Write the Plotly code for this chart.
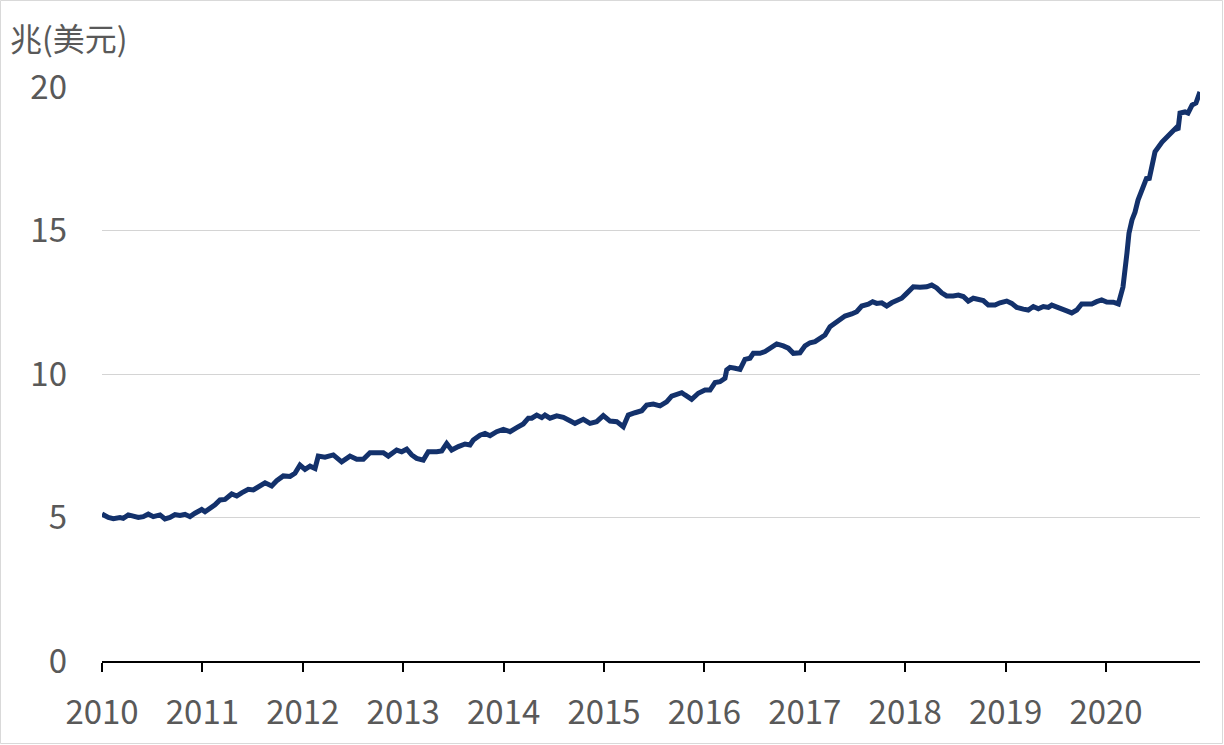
import plotly.graph_objects as go

# Decimal-year positions
year_pos = [
    2010.000, 2010.063, 2010.113, 2010.179, 2010.212, 2010.262, 2010.312, 2010.362, 2010.411, 2010.461,
    2010.511, 2010.578, 2010.627, 2010.677, 2010.727, 2010.777, 2010.827, 2010.876, 2010.926, 2010.993,
    2011.026, 2011.076, 2011.125, 2011.175, 2011.225, 2011.292, 2011.342, 2011.391, 2011.457, 2011.507,
    2011.557, 2011.624, 2011.690, 2011.740, 2011.806, 2011.873, 2011.922, 2011.972, 2012.022, 2012.072,
    2012.122, 2012.154, 2012.221, 2012.304, 2012.387, 2012.470, 2012.537, 2012.603, 2012.669, 2012.736,
    2012.802, 2012.852, 2012.935, 2012.985, 2013.035, 2013.085, 2013.134, 2013.200, 2013.250, 2013.334,
    2013.384, 2013.433, 2013.483, 2013.549, 2013.616, 2013.665, 2013.698, 2013.765, 2013.815, 2013.865,
    2013.931, 2013.997, 2014.064, 2014.131, 2014.196, 2014.246, 2014.280, 2014.330, 2014.380, 2014.412,
    2014.462, 2014.529, 2014.595, 2014.661, 2014.711, 2014.794, 2014.861, 2014.927, 2014.993, 2015.060,
    2015.127, 2015.192, 2015.242, 2015.309, 2015.376, 2015.425, 2015.491, 2015.558, 2015.624, 2015.674,
    2015.724, 2015.774, 2015.807, 2015.873, 2015.939, 2016.006, 2016.056, 2016.106, 2016.155, 2016.205,
    2016.222, 2016.255, 2016.305, 2016.355, 2016.404, 2016.454, 2016.487, 2016.554, 2016.604, 2016.653,
    2016.720, 2016.786, 2016.836, 2016.886, 2016.952, 2017.002, 2017.052, 2017.102, 2017.151, 2017.201,
    2017.251, 2017.301, 2017.351, 2017.400, 2017.467, 2017.517, 2017.567, 2017.633, 2017.676, 2017.716,
    2017.766, 2017.816, 2017.865, 2017.915, 2017.965, 2018.015, 2018.081, 2018.147, 2018.214, 2018.264,
    2018.314, 2018.363, 2018.413, 2018.479, 2018.529, 2018.579, 2018.628, 2018.678, 2018.728, 2018.778,
    2018.828, 2018.894, 2018.944, 2019.011, 2019.061, 2019.111, 2019.176, 2019.226, 2019.276, 2019.326,
    2019.376, 2019.426, 2019.460, 2019.509, 2019.559, 2019.609, 2019.659, 2019.709, 2019.758, 2019.808,
    2019.858, 2019.907, 2019.957, 2020.007, 2020.073, 2020.123, 2020.169, 2020.209, 2020.229, 2020.259,
    2020.289, 2020.319, 2020.369, 2020.408, 2020.428, 2020.458, 2020.488, 2020.558, 2020.618, 2020.657,
    2020.697, 2020.717, 2020.737, 2020.787, 2020.817, 2020.857, 2020.896, 2020.936,
]

# Values in trillions of US dollars
assets = [
    5.12, 5.00, 4.96, 5.00, 4.97, 5.09, 5.05, 5.00, 5.03, 5.12,
    5.03, 5.09, 4.95, 5.00, 5.10, 5.07, 5.11, 5.03, 5.15, 5.28,
    5.20, 5.32, 5.44, 5.61, 5.63, 5.82, 5.75, 5.86, 5.98, 5.96,
    6.07, 6.21, 6.10, 6.28, 6.45, 6.43, 6.54, 6.83, 6.68, 6.79,
    6.71, 7.14, 7.10, 7.18, 6.94, 7.14, 7.03, 7.03, 7.26, 7.24,
    7.26, 7.14, 7.35, 7.29, 7.38, 7.18, 7.06, 7.00, 7.29, 7.29,
    7.32, 7.58, 7.35, 7.47, 7.56, 7.53, 7.70, 7.87, 7.93, 7.85,
    7.99, 8.07, 7.99, 8.13, 8.26, 8.46, 8.46, 8.57, 8.48, 8.57,
    8.46, 8.54, 8.49, 8.37, 8.28, 8.42, 8.28, 8.34, 8.55, 8.36,
    8.34, 8.16, 8.57, 8.65, 8.72, 8.92, 8.95, 8.89, 9.03, 9.23,
    9.27, 9.35, 9.27, 9.12, 9.33, 9.44, 9.44, 9.70, 9.73, 9.85,
    10.14, 10.23, 10.20, 10.16, 10.51, 10.55, 10.72, 10.72, 10.78, 10.90,
    11.05, 10.98, 10.90, 10.72, 10.74, 10.98, 11.09, 11.13, 11.24, 11.36,
    11.65, 11.77, 11.90, 12.02, 12.09, 12.17, 12.37, 12.43, 12.52, 12.46,
    12.48, 12.37, 12.48, 12.58, 12.64, 12.81, 13.04, 13.02, 13.04, 13.10,
    13.00, 12.83, 12.72, 12.72, 12.75, 12.70, 12.54, 12.64, 12.58, 12.56,
    12.40, 12.40, 12.48, 12.54, 12.46, 12.32, 12.26, 12.23, 12.35, 12.27,
    12.35, 12.32, 12.40, 12.32, 12.27, 12.20, 12.13, 12.23, 12.44, 12.46,
    12.44, 12.52, 12.58, 12.51, 12.50, 12.44, 13.03, 14.22, 14.91, 15.37,
    15.64, 16.06, 16.48, 16.86, 16.76, 17.35, 17.74, 18.08, 18.33, 18.43,
    18.57, 18.50, 19.09, 19.13, 19.09, 19.37, 19.44, 19.83,
]

x_tick_years = [2010, 2011, 2012, 2013, 2014, 2015, 2016, 2017, 2018, 2019, 2020]
y_tick_vals = [0, 5, 10, 15, 20]
unit_label = "兆(美元)"

W, H = 1224, 745
ML, MR, MT, MB = 102, 24, 87, 84
PW, PH = W - ML - MR, H - MT - MB

font_family = "Noto Sans CJK TC, Noto Sans, sans-serif"
label_color = "#595959"

fig = go.Figure()
fig.add_trace(go.Scatter(
    x=year_pos, y=assets, mode="lines",
    line=dict(color="#13316b", width=5),
    showlegend=False, hoverinfo="x+y",
))

fig.update_layout(
    width=W, height=H, autosize=False,
    margin=dict(l=ML, r=MR, t=MT, b=MB, pad=0),
    paper_bgcolor="white", plot_bgcolor="white",
    font=dict(family=font_family, size=33, color=label_color),
    xaxis=dict(
        range=[2010, 2010 + PW / 100.4],
        tickmode="array", tickvals=x_tick_years,
        ticktext=[str(v) for v in x_tick_years],
        showgrid=False, zeroline=False, automargin=False,
        showline=True, linecolor="black", linewidth=2,
        ticks="outside", ticklen=9, tickwidth=2, tickcolor="black",
        ticklabelstandoff=12,
        tickfont=dict(size=33, color=label_color, family=font_family),
    ),
    yaxis=dict(
        range=[0, 20],
        tickmode="array", tickvals=y_tick_vals,
        showgrid=True, gridcolor="#d4d4d4", gridwidth=1,
        zeroline=False, showline=False, automargin=False,
        ticks="", ticklabelstandoff=34,
        tickfont=dict(size=33, color=label_color, family=font_family),
    ),
    annotations=[dict(
        text=unit_label, xref="paper", yref="paper",
        x=-(ML - 8) / PW, y=1 + (MT - 37) / PH,
        xanchor="left", yanchor="middle", showarrow=False,
        font=dict(size=32, color=label_color, family=font_family),
    )],
    shapes=[dict(
        type="rect", xref="paper", yref="paper",
        x0=-(ML - 0.5) / PW, x1=1 + (MR - 1.5) / PW,
        y0=-(MB - 1.5) / PH, y1=1 + (MT - 0.5) / PH,
        line=dict(color="#d9d9d9", width=1), fillcolor="rgba(0,0,0,0)",
        layer="below",
    )],
)

fig.write_html(
    "out.html",
    config={"displayModeBar": False},
    post_script="document.body.style.margin='0';document.body.style.padding='0';",
)
